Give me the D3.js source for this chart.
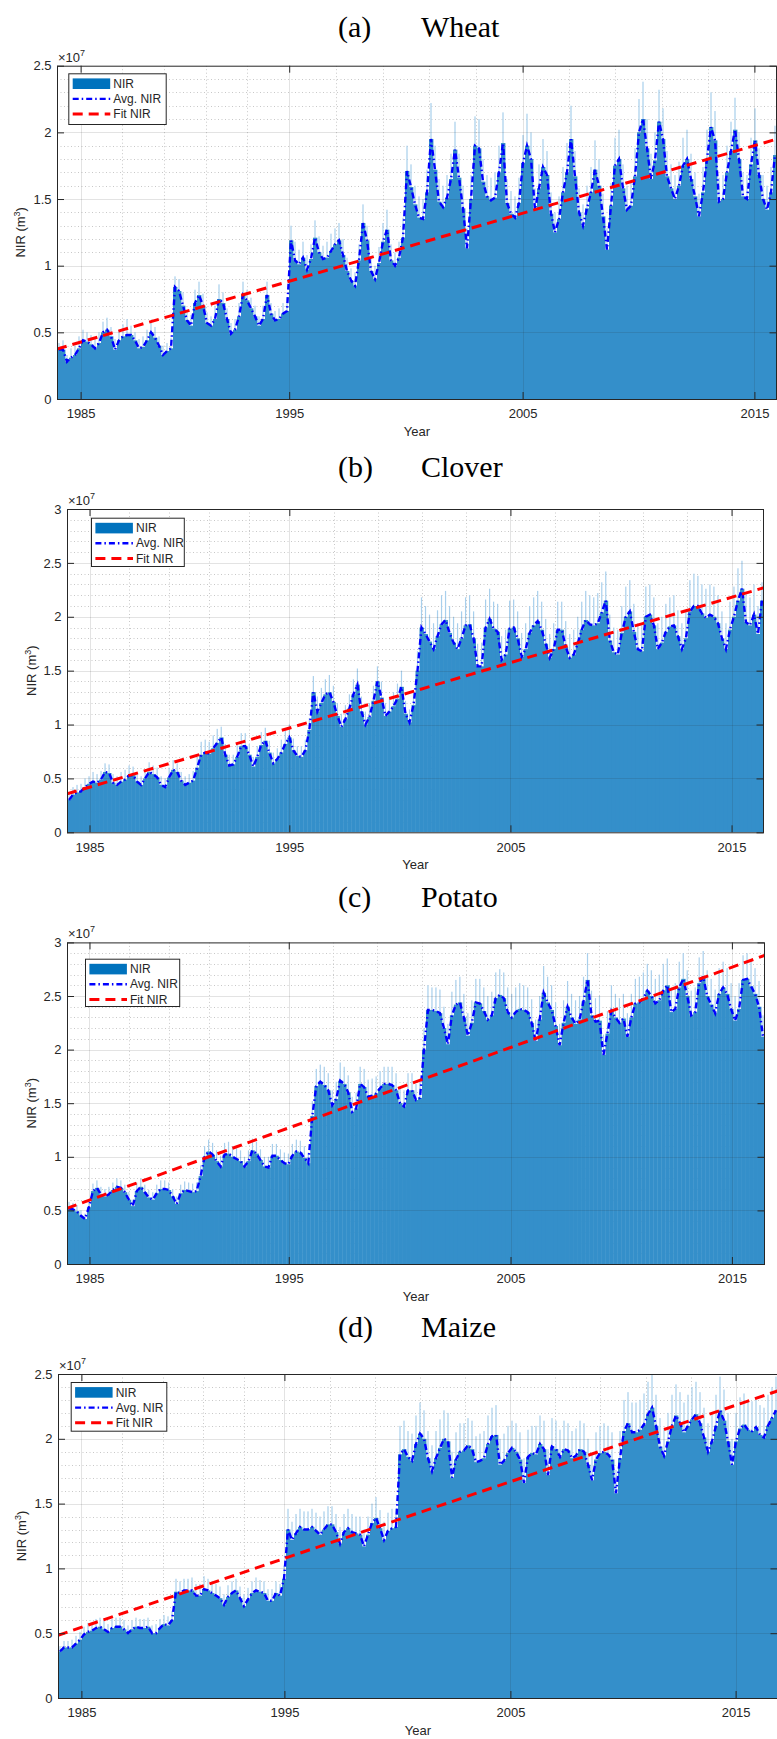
<!DOCTYPE html>
<html>
<head>
<meta charset="utf-8">
<script src="https://cdn.jsdelivr.net/npm/d3@7"></script>
<style>
body { margin: 0; background: #fff; }
svg { display: block; }
text { font-family: "Liberation Sans", Arial, sans-serif; fill: #262626; }
.title { font-family: "Liberation Serif", "Times New Roman", serif; fill: #000; font-size: 30px; }
</style>
</head>
<body>
<div id="chart"></div>
<script>
// all values in units of 1e5 m3, one sample per column of bars
var years = ["1985", "1995", "2005", "2015"];

var avgWheat = [37,37,28,31,33,38,44,43,41,38,42,50,52,47,37,44,47,48,48,44,
  38,39,44,50,46,40,33,36,38,84,81,70,59,55,72,78,70,57,55,60,
  75,72,60,49,52,62,78,74,68,62,55,60,78,64,59,60,64,66,119,104,
  101,106,97,105,121,110,105,106,111,116,119,108,96,89,85,104,132,119,96,90,
  102,118,127,104,100,106,121,171,159,146,136,135,155,195,172,148,144,151,165,187,
  166,143,113,150,190,188,163,152,149,151,170,192,147,139,136,147,177,190,180,142,
  158,174,168,139,125,135,155,170,195,167,140,130,143,155,172,160,137,112,145,175,
  180,158,142,145,167,200,210,188,165,179,208,195,167,158,150,160,175,180,165,152,
  137,155,180,204,194,148,150,170,186,202,180,152,150,176,194,168,150,142,155,183];
var nirWheat = [42,44,33,38,40,47,52,50,48,45,50,58,61,54,45,52,56,60,55,50,
  45,47,52,58,54,47,40,42,46,92,90,80,66,63,82,88,79,65,62,70,
  86,80,68,57,60,72,88,82,76,70,62,70,88,72,66,68,72,76,130,118,
  112,118,108,116,134,122,115,118,124,128,132,120,106,98,95,116,146,130,106,100,
  114,132,142,116,110,118,136,190,176,160,152,150,172,222,190,165,160,168,184,208,
  184,160,128,168,212,210,180,168,166,170,190,215,165,156,152,166,198,214,200,158,
  176,195,186,155,140,152,174,192,220,186,158,146,160,174,194,180,154,128,162,196,
  202,176,160,162,188,225,238,210,184,200,232,218,186,176,168,178,196,202,184,170,
  154,174,202,230,216,166,168,190,208,226,200,170,168,196,218,188,168,160,174,205];
var fitWheat = [37.5, 195];
var tickWheat = [5.9, 58.05, 116.4, 174.35];

var avgClover = [30,35,37,38,42,45,47,46,49,56,55,46,44,47,49,53,53,47,44,50,
  56,54,51,44,42,51,58,56,48,44,46,48,60,72,74,73,78,83,88,72,
  62,63,70,80,80,72,61,70,81,85,74,64,68,74,82,88,76,71,70,76,
  95,130,112,120,128,130,121,108,98,105,115,128,137,112,100,107,122,140,125,108,
  112,117,124,135,110,102,118,150,190,184,177,170,182,193,197,185,176,170,180,192,
  193,180,154,154,190,198,189,186,160,165,189,190,180,163,170,185,192,196,188,175,
  162,170,188,188,172,162,165,175,188,197,193,192,194,204,215,178,167,165,185,200,
  205,186,170,168,200,202,192,170,176,186,191,192,182,170,180,205,210,210,203,199,
  202,200,194,180,170,188,200,215,226,195,192,202,184,215];
var nirClover = [36,42,44,45,50,52,56,54,57,64,63,54,52,56,58,62,61,55,52,58,
  65,62,60,52,50,60,67,64,56,52,54,57,70,84,86,84,90,96,98,82,
  72,72,82,92,92,82,70,80,93,97,85,74,78,86,94,100,87,80,80,86,
  106,145,126,134,142,146,136,120,110,118,128,142,152,126,112,120,136,154,140,120,
  125,130,138,150,122,114,132,168,218,210,202,194,206,220,224,210,200,194,205,218,
  220,205,175,176,216,226,214,212,182,188,215,216,205,185,194,210,218,224,214,198,
  184,194,214,214,196,184,188,200,214,224,220,218,222,232,242,202,190,188,210,228,
  234,212,194,192,228,230,218,194,200,212,218,220,206,194,205,234,240,238,230,226,
  230,228,220,205,194,214,228,245,252,222,218,230,210,232];
var fitClover = [35.7, 227];
var tickClover = [5.62, 55.5, 110.7, 165.9];

var avgPotato = [52,51,49,45,42,53,68,71,65,63,65,69,72,71,67,60,54,68,72,67,
  62,60,66,70,70,69,63,56,66,69,68,67,68,82,100,105,102,96,91,102,
  103,100,98,96,91,96,106,103,97,91,90,101,101,97,94,93,101,105,104,99,
  94,138,166,170,167,162,148,154,171,168,160,142,145,168,165,156,157,159,164,168,
  168,167,162,150,147,162,162,153,155,200,237,237,236,234,220,205,232,242,244,230,
  213,225,244,243,236,228,232,248,251,248,235,230,235,238,237,235,225,208,228,253,
  244,237,222,204,225,240,230,224,228,245,265,232,226,227,195,215,236,230,225,229,
  212,230,243,244,248,255,250,243,246,255,260,235,238,258,266,250,232,235,262,268,
  250,242,234,252,258,252,238,227,238,265,266,259,252,240,212];
var nirPotato = [58,57,55,50,47,60,75,78,72,70,72,76,80,78,74,67,60,76,80,74,
  69,67,74,78,78,76,70,63,74,77,76,75,76,92,110,116,113,106,101,113,
  114,110,108,106,100,106,117,114,107,100,100,112,112,107,104,103,112,116,115,110,
  104,152,182,186,184,178,162,170,188,184,176,156,160,184,182,172,173,175,180,184,
  184,184,178,165,162,178,178,168,170,220,260,258,258,256,240,224,254,265,268,252,
  234,246,266,266,258,250,254,272,275,272,258,252,258,262,260,258,247,228,250,278,
  268,260,244,224,246,264,252,246,250,268,290,255,248,250,214,236,260,252,248,252,
  234,252,266,268,272,280,274,266,270,280,285,258,262,282,290,274,255,258,286,292,
  274,266,256,276,282,276,262,250,262,288,290,284,276,264,232];
var fitPotato = [52, 288];
var tickPotato = [5.64, 55.6, 111.2, 166.7];

var avgMaize = [36,39,39,39,42,45,49,51,52,54,55,53,51,54,55,55,53,50,53,55,
  54,54,55,50,50,54,57,56,60,82,81,83,83,83,79,79,84,83,81,79,
  77,72,78,81,83,77,71,76,81,83,82,81,75,75,81,79,92,130,122,127,
  132,130,130,132,129,126,130,134,134,128,119,128,131,128,127,126,117,126,135,139,
  131,122,129,131,132,188,192,186,183,196,204,200,185,175,185,193,200,198,170,184,
  190,191,195,192,182,183,185,196,202,203,180,183,189,193,190,184,166,186,189,188,
  196,192,172,194,192,186,192,191,185,187,192,190,180,168,184,189,190,188,184,158,
  185,206,212,205,205,207,211,219,224,210,194,187,198,210,218,212,205,210,215,219,
  212,201,190,198,210,222,214,198,180,198,208,211,207,206,209,203,201,210,216,222];
var nirMaize = [40,44,44,45,48,51,55,58,58,61,62,60,57,61,62,62,60,56,60,62,
  61,61,62,56,57,61,64,63,67,92,90,92,92,93,88,88,94,92,90,88,
  86,80,87,90,92,86,80,85,90,93,91,90,84,84,90,88,102,146,136,142,
  146,144,144,146,143,140,144,148,148,142,132,142,146,142,140,140,130,140,150,155,
  145,136,143,146,146,210,214,206,204,218,228,222,206,195,206,215,222,220,190,205,
  212,212,216,214,202,204,206,218,224,226,200,204,210,214,212,205,185,207,210,210,
  218,214,192,216,214,207,214,212,206,208,214,212,200,188,205,210,212,210,205,176,
  206,230,236,228,228,230,235,244,250,234,216,208,220,234,242,236,228,234,240,244,
  236,224,212,220,234,248,238,220,200,220,232,235,230,229,232,226,224,234,240,248];
var fitMaize = [48.4, 237];
var tickMaize = [5.85, 56.6, 113.1, 169.4];

var crops = [
  {tag: "(a)", name: "Wheat", avg: avgWheat, nir: nirWheat, fit: fitWheat, ticks: tickWheat, yMax: 250},
  {tag: "(b)", name: "Clover", avg: avgClover, nir: nirClover, fit: fitClover, ticks: tickClover, yMax: 300},
  {tag: "(c)", name: "Potato", avg: avgPotato, nir: nirPotato, fit: fitPotato, ticks: tickPotato, yMax: 300},
  {tag: "(d)", name: "Maize", avg: avgMaize, nir: nirMaize, fit: fitMaize, ticks: tickMaize, yMax: 250}
];

// page layout of each panel
var frames = [
  {left: 57, right: 777, top: 65.7, bottom: 399, titleY: 37, labelX: 20, legend: [11.3, 7.6, 97.4, 50.7]},
  {left: 67, right: 764, top: 509, bottom: 832.3, titleY: 477, labelX: 31, legend: [24, 8.7, 92.8, 48.3]},
  {left: 67, right: 765, top: 942.4, bottom: 1264, titleY: 906.5, labelX: 31, legend: [18, 16.3, 94.2, 47.3]},
  {left: 58, right: 778, top: 1374, bottom: 1698, titleY: 1336.5, labelX: 21, legend: [12.7, 8, 95.6, 48.7]}
];

var svg = d3.select("#chart").append("svg")
  .attr("width", 777)
  .attr("height", 1739);

svg.append("rect").attr("width", 777).attr("height", 1739).attr("fill", "#fff");

crops.forEach(function(c, k) {
  var f = frames[k];
  var n = c.avg.length;
  var x = d3.scaleLinear().domain([0, n]).range([f.left, f.right]);
  var y = d3.scaleLinear().domain([0, c.yMax]).range([f.bottom, f.top]);
  var g = svg.append("g");

  svg.append("clipPath").attr("id", "clip" + k)
    .append("rect")
    .attr("x", f.left).attr("y", f.top)
    .attr("width", f.right - f.left).attr("height", f.bottom - f.top);

  var plot = g.append("g").attr("clip-path", "url(#clip" + k + ")");

  // minor grid, dotted
  var yMinor = d3.range(10, c.yMax, 10).filter(function(v) { return v % 50 !== 0; });
  plot.selectAll(".ymin").data(yMinor).enter().append("line")
    .attr("x1", f.left).attr("x2", f.right)
    .attr("y1", function(d) { return Math.round(y(d)) + 0.5; })
    .attr("y2", function(d) { return Math.round(y(d)) + 0.5; })
    .attr("stroke", "#c8c8c8").attr("stroke-dasharray", "1,2.5");
  var xMinor = [];
  for (var t = 0; t < c.ticks.length - 1; t++) {
    for (var j = 1; j < 5; j++) xMinor.push(c.ticks[t] + (c.ticks[t + 1] - c.ticks[t]) * j / 5);
  }
  plot.selectAll(".xmin").data(xMinor).enter().append("line")
    .attr("y1", f.top).attr("y2", f.bottom)
    .attr("x1", function(d) { return Math.round(x(d)) + 0.5; })
    .attr("x2", function(d) { return Math.round(x(d)) + 0.5; })
    .attr("stroke", "#c8c8c8").attr("stroke-dasharray", "1,2.5");

  // NIR bars: thin light spikes, then the dense part up to the moving average
  var idx = d3.range(n);
  plot.selectAll(".spike").data(idx).enter().append("rect")
    .attr("x", function(i) { return x(i + 0.5) - 0.6; })
    .attr("width", 1.2)
    .attr("y", function(i) { return y(c.nir[i]); })
    .attr("height", function(i) { return y(0) - y(c.nir[i]); })
    .attr("fill", "#a8cfec");
  plot.selectAll(".bar").data(idx).enter().append("rect")
    .attr("x", function(i) { return x(i); })
    .attr("width", function(i) { return x(i + 1) - x(i) + 0.4; })
    .attr("y", function(i) { return y(Math.min(c.nir[i], c.avg[i])); })
    .attr("height", function(i) { return y(0) - y(Math.min(c.nir[i], c.avg[i])); })
    .attr("fill", "#348fca");

  // major grid on top of the bars
  var yMajor = d3.range(50, c.yMax, 50);
  plot.selectAll(".ymaj").data(yMajor).enter().append("line")
    .attr("x1", f.left).attr("x2", f.right)
    .attr("y1", function(d) { return Math.round(y(d)) + 0.5; })
    .attr("y2", function(d) { return Math.round(y(d)) + 0.5; })
    .attr("stroke", "#262626").attr("stroke-opacity", 0.13);
  plot.selectAll(".xmaj").data(c.ticks).enter().append("line")
    .attr("y1", f.top).attr("y2", f.bottom)
    .attr("x1", function(d) { return Math.round(x(d)) + 0.5; })
    .attr("x2", function(d) { return Math.round(x(d)) + 0.5; })
    .attr("stroke", "#262626").attr("stroke-opacity", 0.13);

  // moving average
  var line = d3.line()
    .x(function(d, i) { return x(i + 0.5); })
    .y(function(d) { return y(d); });
  plot.append("path").datum(c.avg)
    .attr("d", line)
    .attr("fill", "none")
    .attr("stroke", "#0000ff")
    .attr("stroke-width", 2.4)
    .attr("stroke-dasharray", "6,3,1.5,3");

  // linear fit
  plot.append("path").datum([[0, c.fit[0]], [n, c.fit[1]]])
    .attr("d", d3.line().x(function(d) { return x(d[0]); }).y(function(d) { return y(d[1]); }))
    .attr("fill", "none")
    .attr("stroke", "#ff0000")
    .attr("stroke-width", 3)
    .attr("stroke-dasharray", "10,6");

  // axes with inward ticks on all four sides
  var yTicks = d3.range(0, c.yMax + 1, 50);
  var yAxis = d3.axisLeft(y).tickValues(yTicks).tickSizeInner(-7).tickSizeOuter(0).tickPadding(5.5)
    .tickFormat(function(d) { return String(d / 100); });
  g.append("g").attr("transform", "translate(" + f.left + ",0)").call(yAxis);
  g.append("g").attr("transform", "translate(" + (f.right - 0.5) + ",0)")
    .call(d3.axisRight(y).tickValues(yTicks).tickSizeInner(-7).tickSizeOuter(0).tickFormat(""));
  var xAxis = d3.axisBottom(x).tickValues(c.ticks).tickSizeInner(-7).tickSizeOuter(0).tickPadding(10)
    .tickFormat(function(d, i) { return years[i]; });
  g.append("g").attr("transform", "translate(0," + f.bottom + ")").call(xAxis);
  g.append("g").attr("transform", "translate(0," + f.top + ")")
    .call(d3.axisTop(x).tickValues(c.ticks).tickSizeInner(-7).tickSizeOuter(0).tickFormat(""));
  g.selectAll(".domain").remove();
  g.selectAll(".tick line").attr("stroke", "#262626");
  g.selectAll(".tick text").attr("font-size", 13).attr("fill", "#262626")
    .attr("font-family", "'Liberation Sans', Arial, sans-serif");

  g.append("rect")
    .attr("x", f.left + 0.5).attr("y", f.top + 0.5)
    .attr("width", f.right - f.left - 1).attr("height", f.bottom - f.top)
    .attr("fill", "none").attr("stroke", "#262626").attr("stroke-width", 1);

  // exponent
  var ex = g.append("text").attr("x", f.left + 1).attr("y", f.top - 4).attr("font-size", 13);
  ex.append("tspan").text("\u00d710");
  ex.append("tspan").attr("dy", -6).attr("font-size", 9).text("7");

  // axis titles
  g.append("text")
    .attr("x", (f.left + f.right) / 2).attr("y", f.bottom + 37)
    .attr("text-anchor", "middle").attr("font-size", 13)
    .text("Year");
  var yl = g.append("text")
    .attr("transform", "translate(" + f.labelX + "," + (f.top + f.bottom) / 2 + ") rotate(-90)")
    .attr("text-anchor", "middle").attr("dy", "0.35em").attr("font-size", 13);
  yl.append("tspan").text("NIR (m");
  yl.append("tspan").attr("dy", -5).attr("font-size", 9).text("3");
  yl.append("tspan").attr("dy", 5).text(")");

  // panel title
  svg.append("text").attr("class", "title").attr("x", 338).attr("y", f.titleY).text(c.tag);
  svg.append("text").attr("class", "title").attr("x", 421).attr("y", f.titleY).text(c.name);

  // legend
  var lg = g.append("g").attr("transform", "translate(" + (f.left + f.legend[0]) + "," + (f.top + f.legend[1]) + ")");
  lg.append("rect").attr("x", 0.5).attr("y", 0.5).attr("width", f.legend[2]).attr("height", f.legend[3])
    .attr("fill", "#fff").attr("stroke", "#262626").attr("stroke-width", 1);
  var rowY = [10.4, 25.6, 40.8];
  lg.append("rect").attr("x", 4.4).attr("y", rowY[0] - 5.3).attr("width", 37.5).attr("height", 10.6).attr("fill", "#0072bd");
  lg.append("line").attr("x1", 4.4).attr("x2", 42).attr("y1", rowY[1]).attr("y2", rowY[1])
    .attr("stroke", "#0000ff").attr("stroke-width", 2.4).attr("stroke-dasharray", "6,3,1.5,3");
  lg.append("line").attr("x1", 4.4).attr("x2", 42).attr("y1", rowY[2]).attr("y2", rowY[2])
    .attr("stroke", "#ff0000").attr("stroke-width", 3).attr("stroke-dasharray", "10,6");
  lg.selectAll(".lab").data(["NIR", "Avg. NIR", "Fit NIR"]).enter().append("text")
    .attr("x", 45).attr("y", function(d, i) { return rowY[i]; })
    .attr("dy", "0.35em").attr("font-size", 12)
    .text(function(d) { return d; });
});
</script>
</body>
</html>
